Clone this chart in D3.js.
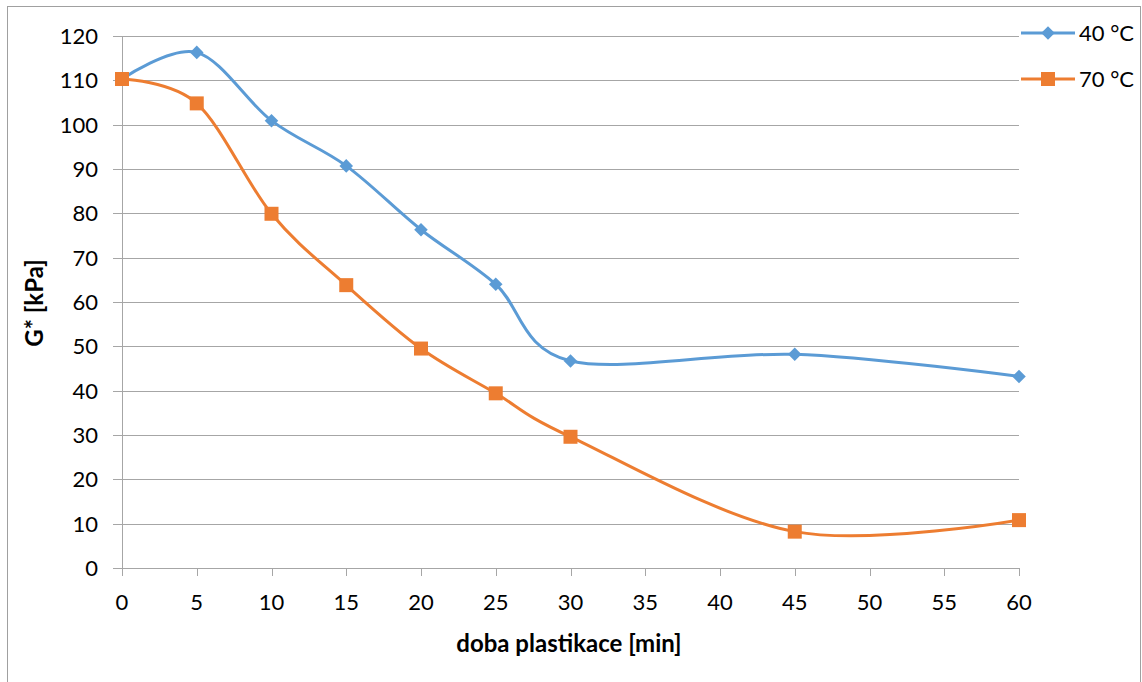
<!DOCTYPE html>
<html>
<head>
<meta charset="utf-8">
<script src="https://cdn.jsdelivr.net/npm/d3@7"></script>
<style>
  body { margin: 0; background: #fff; }
  svg text { font-family: Lato, "Open Sans", sans-serif; fill: #000; }
</style>
</head>
<body>
<svg width="1142" height="682"></svg>
<script>
// x values (minutes)
var times = [0, 5, 10, 15, 20, 25, 30, 45, 60];
// G* values
var g40 = [110.3, 116.3, 100.9, 90.7, 76.3, 64.0, 46.7, 48.2, 43.2];
var g70 = [110.3, 104.8, 79.9, 63.8, 49.5, 39.4, 29.6, 8.2, 10.8];
var seriesNames = ["40 °C", "70 °C"];
var xTicks = d3.range(0, 61, 5);
var yTicks = d3.range(0, 121, 10);

var svg = d3.select("svg");

// outer frame of the chart
svg.append("rect")
  .attr("x", 7.5).attr("y", 6.5)
  .attr("width", 1133).attr("height", 700)
  .attr("fill", "none").attr("stroke", "#a0a0a0").attr("stroke-width", 1);

var x = d3.scaleLinear().domain([0, 60]).range([122, 1019]);
var y = d3.scaleLinear().domain([0, 120]).range([568, 36]);

// gridlines (extend left as tick marks)
svg.selectAll("line.grid")
  .data(yTicks)
  .enter()
  .append("line")
  .attr("class", "grid")
  .attr("x1", 113).attr("x2", 1019)
  .attr("y1", function(d) { return Math.round(y(d)) + 0.5; })
  .attr("y2", function(d) { return Math.round(y(d)) + 0.5; })
  .attr("stroke", "#a6a6a6")
  .attr("stroke-width", 1);

// y axis line
svg.append("line")
  .attr("x1", 122.5).attr("x2", 122.5)
  .attr("y1", y(120)).attr("y2", 576)
  .attr("stroke", "#a6a6a6");

// x ticks
svg.selectAll("line.xtick")
  .data(xTicks)
  .enter()
  .append("line")
  .attr("x1", function(d) { return Math.round(x(d)) + 0.5; })
  .attr("x2", function(d) { return Math.round(x(d)) + 0.5; })
  .attr("y1", 568).attr("y2", 576)
  .attr("stroke", "#a6a6a6");

svg.selectAll("text.xlab")
  .data(xTicks)
  .enter()
  .append("text")
  .attr("x", function(d) { return x(d); })
  .attr("y", 610)
  .attr("text-anchor", "middle")
  .style("font-size", "22px")
  .text(function(d) { return d; });

svg.selectAll("text.ylab")
  .data(yTicks)
  .enter()
  .append("text")
  .attr("x", 98)
  .attr("y", function(d) { return y(d) + 8; })
  .attr("text-anchor", "end")
  .style("font-size", "22px")
  .text(function(d) { return d; });

// axis titles
svg.append("text")
  .attr("x", 569).attr("y", 652)
  .attr("text-anchor", "middle")
  .style("font-size", "24px").style("font-weight", "bold")
  .text("doba plastikace [min]");

svg.append("text")
  .attr("transform", "translate(43,303) rotate(-90)")
  .attr("text-anchor", "middle")
  .style("font-size", "24px").style("font-weight", "bold")
  .text("G* [kPa]");

var colors = ["#5b9bd5", "#ed7d31"];
var data = [g40, g70];

var line = d3.line()
  .x(function(d, i) { return x(times[i]); })
  .y(function(d) { return y(d); })
  .curve(d3.curveCardinal.tension(0));

data.forEach(function(vals, s) {
  svg.append("path")
    .attr("d", line(vals))
    .attr("fill", "none")
    .attr("stroke", colors[s])
    .attr("stroke-width", 3);
});

var diamond = d3.symbol().type(d3.symbolSquare).size(92);

// markers 40 °C
svg.selectAll("path.m40")
  .data(g40)
  .enter()
  .append("path")
  .attr("transform", function(d, i) { return "translate(" + x(times[i]) + "," + y(d) + ") rotate(45)"; })
  .attr("d", diamond)
  .attr("fill", colors[0]);

// markers 70 °C
svg.selectAll("rect.m70")
  .data(g70)
  .enter()
  .append("rect")
  .attr("x", function(d, i) { return x(times[i]) - 7; })
  .attr("y", function(d) { return y(d) - 7; })
  .attr("width", 14).attr("height", 14)
  .attr("fill", colors[1]);

// legend
seriesNames.forEach(function(name, s) {
  var ly = 33 + s * 46;
  svg.append("line")
    .attr("x1", 1021).attr("x2", 1075)
    .attr("y1", ly).attr("y2", ly)
    .attr("stroke", colors[s]).attr("stroke-width", 3);
  if (s == 0) {
    svg.append("path")
      .attr("transform", "translate(1048," + ly + ") rotate(45)")
      .attr("d", diamond)
      .attr("fill", colors[s]);
  } else {
    svg.append("rect")
      .attr("x", 1041).attr("y", ly - 7)
      .attr("width", 14).attr("height", 14)
      .attr("fill", colors[s]);
  }
  svg.append("text")
    .attr("x", 1079).attr("y", ly + 8)
    .style("font-size", "22px")
    .text(name);
});
</script>
</body>
</html>
